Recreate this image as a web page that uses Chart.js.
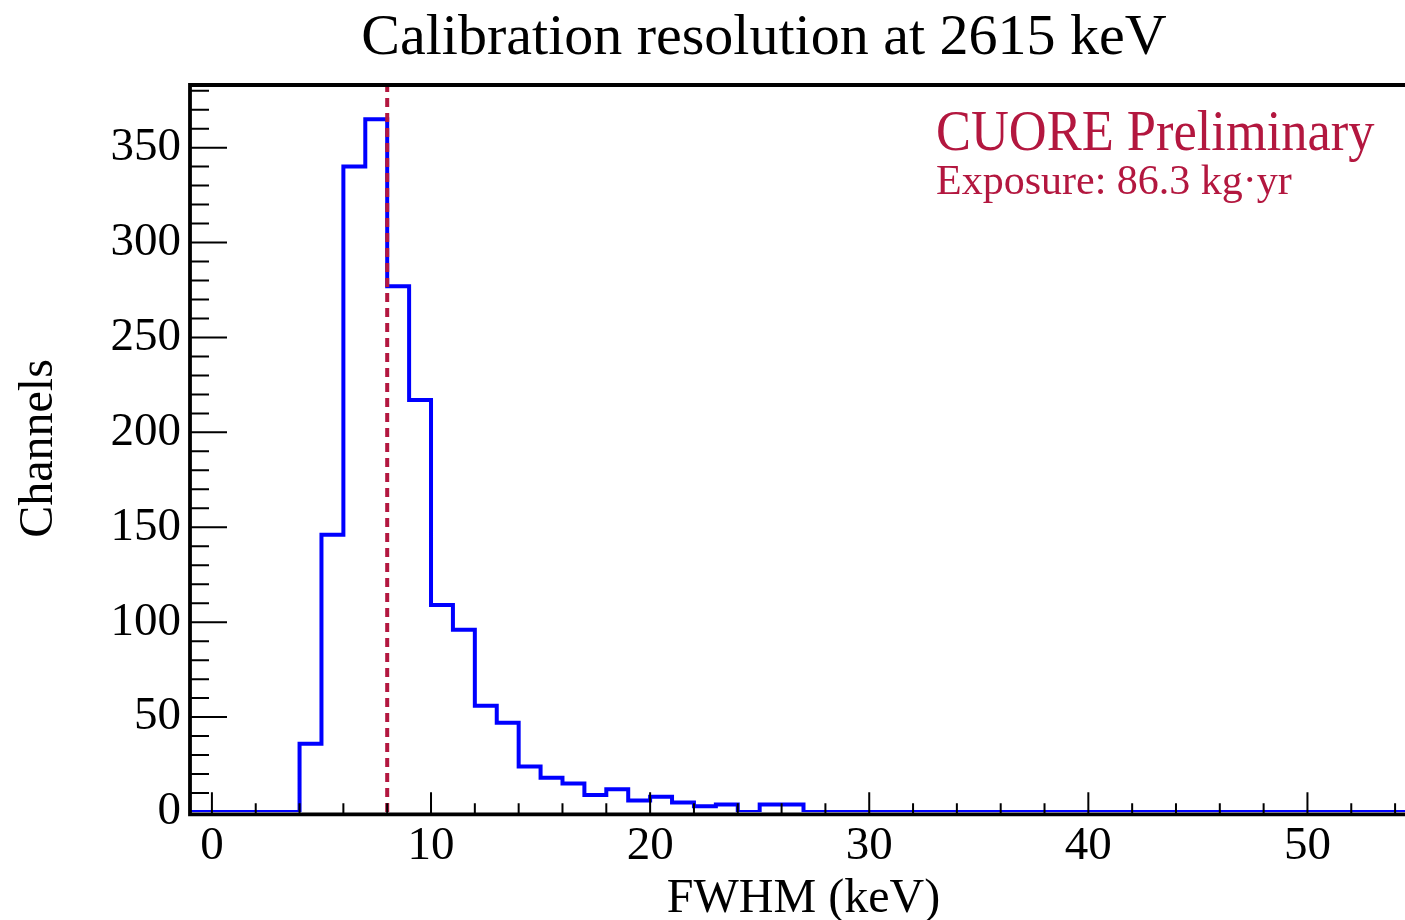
<!DOCTYPE html>
<html lang="en">
<head>
<meta charset="UTF-8">
<title>Calibration resolution at 2615 keV</title>
<style>
    html, body {
        margin: 0;
        padding: 0;
        background: #fff;
        overflow: hidden;
    }
    #wrap {
        position: relative;
        width: 1420px;
        height: 925px;
    }
</style>
</head>
<body>
<div id="wrap"><canvas id="chart"></canvas></div>
<script src="https://cdn.jsdelivr.net/npm/chart.js"></script>
<script>
    // FWHM per channel, 1 keV bins starting at -1 keV
    const binStart = -1;
    const binWidth = 1;
    const channelCounts = [
        0, 0, 0, 0, 0,                 // -1 .. 3
        36, 146, 340, 365, 277,        // 4 .. 8
        217, 109, 96, 56, 47,          // 9 .. 13
        24, 18, 15, 9, 12,             // 14 .. 18
        6, 8, 5, 3, 4,                 // 19 .. 23
        0, 4, 4, 0, 0,                 // 24 .. 28
        0, 0, 0, 0, 0, 0, 0, 0, 0, 0,  // 29 .. 38
        0, 0, 0, 0, 0, 0, 0, 0, 0, 0,  // 39 .. 48
        0, 0, 0, 0, 0, 0               // 49 .. 54
    ];
    const meanFWHM = 8.0;

    const xRange = [-1, 55];
    const yRange = [0, 383];
    const xTickLabels = [0, 10, 20, 30, 40, 50];
    const yTickLabels = [0, 50, 100, 150, 200, 250, 300, 350];

    const titleText = 'Calibration resolution at 2615 keV';
    const xTitle = 'FWHM (keV)';
    const yTitle = 'Channels';
    const labelLines = ['CUORE Preliminary', 'Exposure: 86.3 kg\u00b7yr'];

    const serif = '"Liberation Serif", "DejaVu Serif", serif';
    const cuoreRed = '#b3173f';

    const histPoints = channelCounts.map((c, i) => ({ x: binStart + i * binWidth, y: c }));
    histPoints.push({ x: binStart + channelCounts.length * binWidth, y: channelCounts[channelCounts.length - 1] });

    // frame, inside ticks (ROOT style) and free texts
    const frame = {
        id: 'frame',
        afterDatasetsDraw(chart) {
            const ctx = chart.ctx;
            const a = chart.chartArea;
            const xs = chart.scales.x;
            const ys = chart.scales.y;
            const bottom = a.bottom + 2.3;
            ctx.save();
            ctx.strokeStyle = '#000';
            ctx.lineWidth = 2;
            ctx.beginPath();
            for (let v = 0; v <= 380; v += 10) {
                const py = ys.getPixelForValue(v) + (v === 0 ? 2.3 : 0);
                ctx.moveTo(a.left, py);
                ctx.lineTo(a.left + (v % 50 === 0 ? 37 : 19), py);
            }
            for (let v = 0; v <= 54; v += 2) {
                const px = xs.getPixelForValue(v);
                ctx.moveTo(px, bottom);
                ctx.lineTo(px, bottom - (v % 10 === 0 ? 22 : 11));
            }
            ctx.stroke();

            ctx.lineWidth = 3.8;
            ctx.beginPath();
            ctx.moveTo(a.left, a.top);
            ctx.lineTo(a.left, bottom + 1.9);
            ctx.moveTo(a.left - 1.9, a.top);
            ctx.lineTo(a.right, a.top);
            ctx.moveTo(a.left - 1.9, bottom);
            ctx.lineTo(a.right, bottom);
            ctx.stroke();

            ctx.fillStyle = '#000';
            ctx.textAlign = 'center';
            ctx.textBaseline = 'alphabetic';
            ctx.font = '58px ' + serif;
            ctx.fillText(titleText, 764, 54);

            // the label font in the original is a little narrower than Liberation Serif
            ctx.fillStyle = cuoreRed;
            ctx.textAlign = 'left';
            ctx.save();
            ctx.translate(936, 150);
            ctx.scale(0.92, 1);
            ctx.font = '57px ' + serif;
            ctx.fillText(labelLines[0], 0, 0);
            ctx.restore();
            ctx.font = '42px ' + serif;
            ctx.fillText(labelLines[1], 936, 194);
            ctx.restore();
        }
    };

    new Chart(document.getElementById('chart'), {
        type: 'line',
        data: {
            datasets: [
                {
                    label: 'mean',
                    data: [{ x: meanFWHM, y: yRange[0] }, { x: meanFWHM, y: yRange[1] }],
                    borderColor: cuoreRed,
                    borderWidth: 4,
                    borderDash: [9, 6],
                    pointRadius: 0,
                    order: 0
                },
                {
                    label: 'channels',
                    data: histPoints,
                    stepped: true,
                    borderColor: '#0000ff',
                    borderWidth: 4,
                    pointRadius: 0,
                    fill: false,
                    order: 1
                }
            ]
        },
        options: {
            responsive: true,
            maintainAspectRatio: false,
            animation: false,
            layout: { padding: { top: 85, right: 3, left: 0, bottom: 0 } },
            plugins: {
                legend: { display: false },
                tooltip: { enabled: false }
            },
            scales: {
                x: {
                    type: 'linear',
                    min: xRange[0],
                    max: xRange[1],
                    afterBuildTicks: s => { s.ticks = xTickLabels.map(v => ({ value: v })); },
                    afterFit: s => { s.height = 113; },
                    grid: { display: false, drawTicks: false },
                    border: { display: false },
                    ticks: {
                        color: '#000',
                        padding: 6,
                        maxRotation: 0,
                        font: { family: serif, size: 47 }
                    },
                    title: {
                        display: true,
                        text: xTitle,
                        color: '#000',
                        font: { family: serif, size: 48, lineHeight: 1 },
                        padding: { top: 0, bottom: 2 }
                    }
                },
                y: {
                    type: 'linear',
                    min: yRange[0],
                    max: yRange[1],
                    afterBuildTicks: s => { s.ticks = yTickLabels.map(v => ({ value: v })); },
                    afterFit: s => { s.width = 190; },
                    grid: { display: false, drawTicks: false },
                    border: { display: false },
                    ticks: {
                        color: '#000',
                        padding: 9,
                        font: { family: serif, size: 47 }
                    },
                    title: {
                        display: true,
                        text: yTitle,
                        color: '#000',
                        font: { family: serif, size: 48, lineHeight: 1 },
                        padding: { top: 15, bottom: 0 }
                    }
                }
            }
        },
        plugins: [frame]
    });
</script>
</body>
</html>
